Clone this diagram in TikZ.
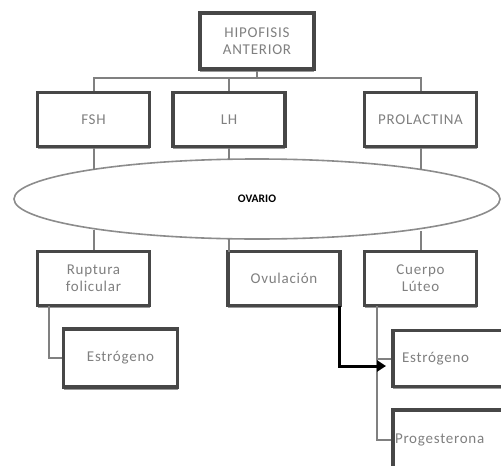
\documentclass[tikz,border=0pt]{standalone}
\usepackage{fontspec}
\setmainfont[LetterSpace=5]{Carlito}
\newfontfamily\ovfont{Carlito}
\usetikzlibrary{shadows,arrows.meta,shapes.geometric}
\begin{document}
\begin{tikzpicture}[x=1pt,y=-1pt,
  boxst/.style={draw=black!72, line width=3.4pt, fill=white, rectangle, inner sep=0pt,
     text=black!50, font=\fontsize{15}{17}\selectfont, align=center,
     drop shadow={shadow xshift=0pt, shadow yshift=-2.5pt, fill=black!40, opacity=1}},
  conn/.style={draw=black!50, line width=2pt},
  arr/.style={draw=black, line width=3pt, -{Triangle[length=9pt,width=11pt]}}]
\useasboundingbox (0,0) rectangle (501,466);
\clip (0,0) rectangle (501,466);
\fill[white] (0,0) rectangle (501,466);
% top
\node[boxst, minimum width=114pt, minimum height=56pt] (hip) at (257,41) {HIPOFISIS\\ANTERIOR};
\node[boxst, minimum width=112pt, minimum height=54pt] (fsh) at (93.5,119.5) {FSH};
\node[boxst, minimum width=112pt, minimum height=54pt] (lh) at (229,119.5) {LH};
\node[boxst, minimum width=112pt, minimum height=54pt] (pro) at (420.5,119.5) {PROLACTINA};
\coordinate (bus) at (257,79);
\draw[conn] (hip.south) -- (bus);
\draw[conn] (fsh.north) -- ++(0,-13) -| (pro.north);
\draw[conn] (lh.north) -- ++(0,-13);
% ovario
\node[draw=black!45, line width=1.6pt, ellipse, minimum width=486pt, minimum height=80pt, inner sep=0pt,
  font=\ovfont\fontsize{11.5}{12}\selectfont\bfseries] (ov) at (257,199) {OVARIO};
\coordinate (o1) at (93.5,170);
\coordinate (o2) at (229,160);
\coordinate (o3) at (420.5,170);
\draw[conn] (fsh.south) -- (o1);
\draw[conn] (lh.south) -- (o2);
\draw[conn] (pro.south) -- (o3);
% bottom row
\node[boxst, minimum width=112pt, minimum height=54pt] (rup) at (93.5,278.5) {Ruptura\\folicular};
\node[boxst, minimum width=112pt, minimum height=54pt] (ovu) at (284,278.5) {Ovulación};
\node[boxst, minimum width=112pt, minimum height=54pt] (cue) at (420.5,278.5) {Cuerpo\\Lúteo};
\coordinate (u1) at (93.5,230);
\coordinate (u2) at (229,239);
\coordinate (u2b) at (229,251.5);
\coordinate (u3) at (420.5,231);
\draw[conn] (u1) -- (rup.north);
\draw[conn] (u2) -- (u2b);
\draw[conn] (u3) -- (cue.north);
% children
\node[boxst, minimum width=114pt, minimum height=58pt] (es1) at (120.5,358) {Estrógeno};
\coordinate (r1) at (49,306);
\draw[conn] (r1) |- (es1.west);
\node[boxst, minimum width=116pt, minimum height=56pt, text width=108pt, align=left] (es2) at (451,358.5) {\hspace{5pt}Estrógeno};
\node[boxst, minimum width=116pt, minimum height=60pt, text width=112pt, align=left] (prg) at (451,440) {Progesterona};
\coordinate (c1) at (377,306);
\coordinate (c2) at (377,358);
\coordinate (a1) at (339,306);
\coordinate (a2) at (386,366);
\draw[conn] (c1) |- (es2.west);
\draw[conn] (c2) |- (prg.west);
\draw[arr] (a1) |- (a2);
\end{tikzpicture}
\end{document}
